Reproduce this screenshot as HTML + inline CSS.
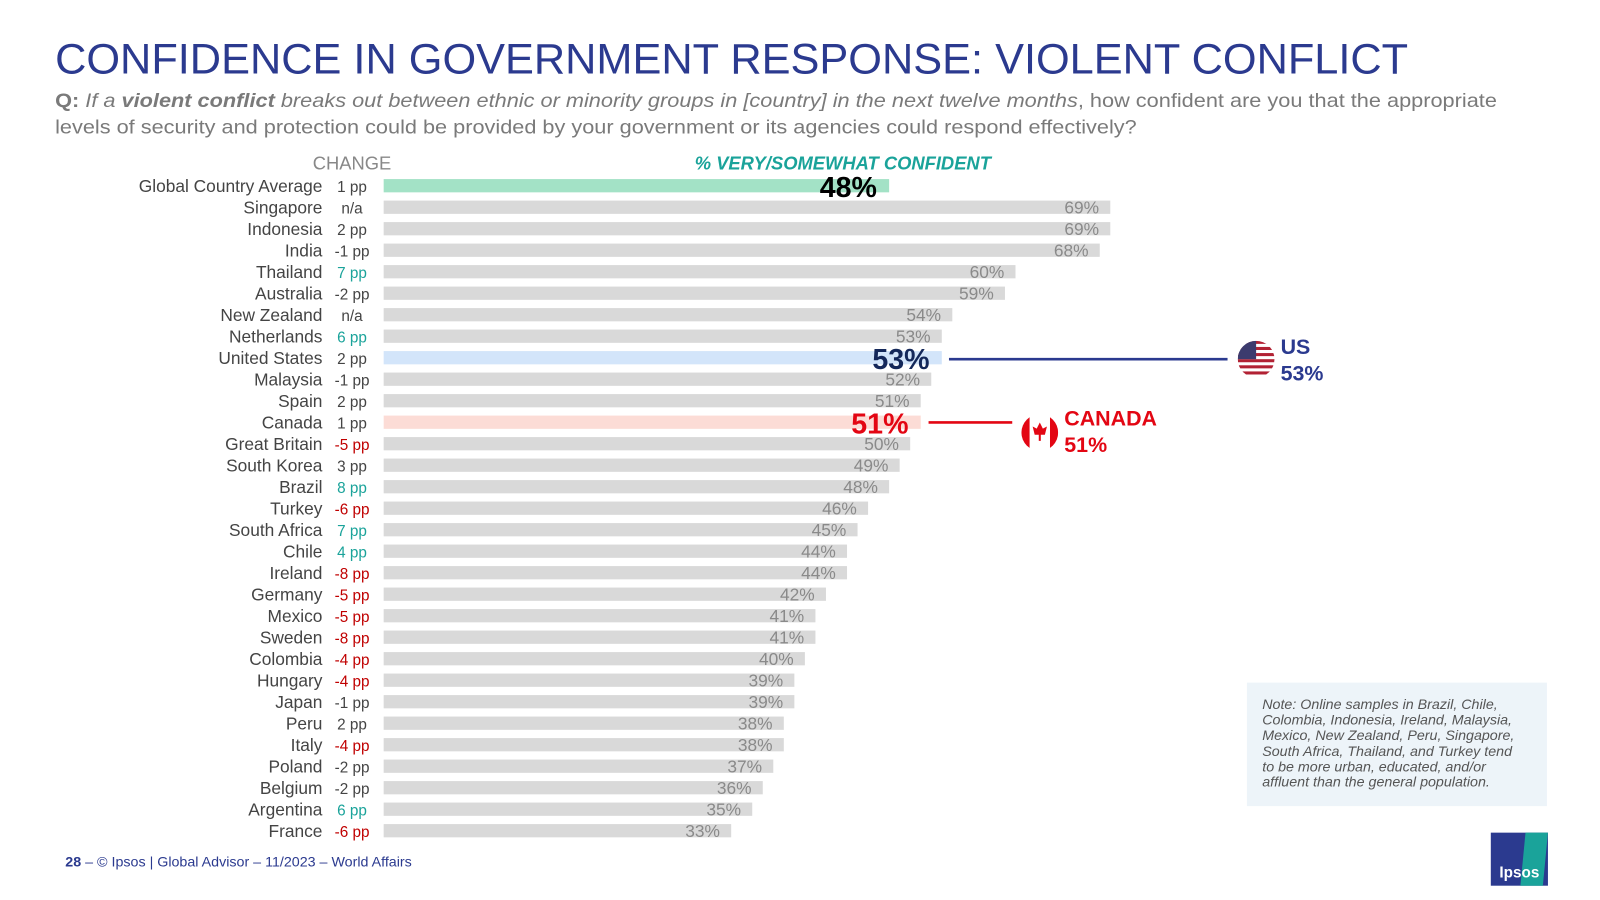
<!DOCTYPE html>
<html><head><meta charset="utf-8"><style>
html,body{margin:0;padding:0;background:#fff;}
svg{display:block;font-family:"Liberation Sans",Arial,sans-serif;}
</style></head><body>
<svg id="chart" width="1600" height="900" viewBox="0 0 1600 900" xmlns="http://www.w3.org/2000/svg">
<g transform="scale(1.0204)">
<text x="54" y="72" font-size="42" fill="#2b3a8f" textLength="1326" lengthAdjust="spacingAndGlyphs">CONFIDENCE IN GOVERNMENT RESPONSE: VIOLENT CONFLICT</text>
<text x="54" y="105" font-size="19" fill="#7a7a7a" textLength="1413" lengthAdjust="spacingAndGlyphs"><tspan font-weight="bold">Q:</tspan> <tspan font-style="italic">If a </tspan><tspan font-style="italic" font-weight="bold">violent conflict</tspan><tspan font-style="italic"> breaks out between ethnic or minority groups in [country] in the next twelve months</tspan>, how confident are you that the appropriate</text>
<text x="54" y="131" font-size="19" fill="#7a7a7a" textLength="1060" lengthAdjust="spacingAndGlyphs">levels of security and protection could be provided by your government or its agencies could respond effectively?</text>
<text x="345" y="166" font-size="18" fill="#888" text-anchor="middle">CHANGE</text>
<text x="826" y="166" font-size="18" fill="#1aa39a" font-weight="bold" font-style="italic" text-anchor="middle">% VERY/SOMEWHAT CONFIDENT</text>
<g id="bars"></g>
<line x1="930" y1="352" x2="1203" y2="352" stroke="#2b3a8f" stroke-width="2.5"/>
<g>
<clipPath id="usc"><circle cx="1231" cy="352" r="18"/></clipPath>
<g clip-path="url(#usc)"><rect x="1213" y="334" width="36" height="36" fill="#fff"/>
<rect x="1213" y="334" width="36" height="3" fill="#b22234"/><rect x="1213" y="340" width="36" height="3" fill="#b22234"/><rect x="1213" y="346" width="36" height="3" fill="#b22234"/><rect x="1213" y="352" width="36" height="3" fill="#b22234"/><rect x="1213" y="358" width="36" height="3" fill="#b22234"/><rect x="1213" y="364" width="36" height="3" fill="#b22234"/>
<rect x="1213" y="334" width="18" height="18" fill="#3c3b6e"/></g></g>
<text x="1255" y="347" font-size="21" font-weight="bold" fill="#2b3a8f">US</text>
<text x="1255" y="373" font-size="21" font-weight="bold" fill="#2b3a8f">53%</text>
<line x1="910" y1="414" x2="992" y2="414" stroke="#e30613" stroke-width="2.5"/>
<g>
<clipPath id="cac"><circle cx="1019" cy="424" r="18"/></clipPath>
<g clip-path="url(#cac)"><rect x="1001" y="406" width="36" height="36" fill="#fff"/><rect x="1001" y="406" width="8" height="36" fill="#e30613"/><rect x="1029" y="406" width="8" height="36" fill="#e30613"/>
<polygon points="1019,414 1022,420 1026,418 1024,426 1020,426 1020,432 1018,432 1018,426 1014,426 1012,418 1016,420" fill="#e30613"/></g></g>
<text x="1043" y="417" font-size="21" font-weight="bold" fill="#e30613">CANADA</text>
<text x="1043" y="443" font-size="21" font-weight="bold" fill="#e30613">51%</text>
<rect x="1222" y="669" width="294" height="121" fill="#edf4f9"/>
<g font-size="14" font-style="italic" fill="#555">
<text x="1237" y="695">Note: Online samples in Brazil, Chile,</text>
<text x="1237" y="710">Colombia, Indonesia, Ireland, Malaysia,</text>
<text x="1237" y="725">Mexico, New Zealand, Peru, Singapore,</text>
<text x="1237" y="741">South Africa, Thailand, and Turkey tend</text>
<text x="1237" y="756">to be more urban, educated, and/or</text>
<text x="1237" y="771">affluent than the general population.</text></g>
<text x="64" y="849" font-size="14" fill="#2b3a8f"><tspan font-weight="bold">28</tspan> –    © Ipsos | Global Advisor – 11/2023 – World Affairs</text>
<g>
<rect x="1461" y="816" width="56" height="52" fill="#2b3a8f"/>
<polygon points="1495,816 1517,816 1512,868 1490,868" fill="#1aa39a"/>
<text x="1489" y="860" font-size="15" font-weight="bold" fill="#fff" text-anchor="middle">Ipsos</text></g>
</g>
</svg>
<script>
const countries=["Global Country Average","Singapore","Indonesia","India","Thailand","Australia","New Zealand","Netherlands","United States","Malaysia","Spain","Canada","Great Britain","South Korea","Brazil","Turkey","South Africa","Chile","Ireland","Germany","Mexico","Sweden","Colombia","Hungary","Japan","Peru","Italy","Poland","Belgium","Argentina","France"];
const values=[48,69,69,68,60,59,54,53,53,52,51,51,50,49,48,46,45,44,44,42,41,41,40,39,39,38,38,37,36,35,33];
const changes=["1 pp","n/a","2 pp","-1 pp","7 pp","-2 pp","n/a","6 pp","2 pp","-1 pp","2 pp","1 pp","-5 pp","3 pp","8 pp","-6 pp","7 pp","4 pp","-8 pp","-5 pp","-5 pp","-8 pp","-4 pp","-4 pp","-1 pp","2 pp","-4 pp","-2 pp","-2 pp","6 pp","-6 pp"];
const NS="http://www.w3.org/2000/svg";
const x0=376, pxPer=10.32, y0=182, step=21.07, bh=13;
const xs=v=>x0+v*pxPer;
const ys=i=>y0+i*step;
const g=document.getElementById('bars');
function mk(tag,attrs){const e=document.createElementNS(NS,tag);for(const k in attrs)e.setAttribute(k,attrs[k]);g.appendChild(e);return e;}
countries.forEach((c,i)=>{
  const y=ys(i);
  let fill="#d9d9d9";
  if(c==="Global Country Average")fill="#a3e2c6";
  if(c==="United States")fill="#d3e5fa";
  if(c==="Canada")fill="#fcdcd6";
  const r=mk('rect',{x:x0,y:y-bh/2,width:xs(values[i])-x0,height:bh,fill:fill});
  
  
  const t=mk('text',{x:316,y:y+6,'font-size':17,fill:'#444','text-anchor':'end'});
  t.textContent=c;
  
  
  const n=parseFloat(changes[i]);
  let cc="#444";
  if(!isNaN(n)&&n>=4)cc="#1aa39a";
  if(!isNaN(n)&&n<=-4)cc="#c00000";
  const ch=mk('text',{x:345,y:y+6,'font-size':15,fill:cc,'text-anchor':'middle'});
  ch.textContent=changes[i];
  
  
  let big=null;
  if(c==="Global Country Average")big="#000";
  if(c==="United States")big="#14285a";
  if(c==="Canada")big="#e30613";
  const lbl=mk('text',big?{x:xs(values[i])-12,y:y+11,'font-size':28,'font-weight':'bold',fill:big,'text-anchor':'end'}:{x:xs(values[i])-11,y:y+6,'font-size':17,fill:'#8a8a8a','text-anchor':'end'});
  lbl.textContent=values[i]+"%";
  
  
});
</script>
</body></html>
